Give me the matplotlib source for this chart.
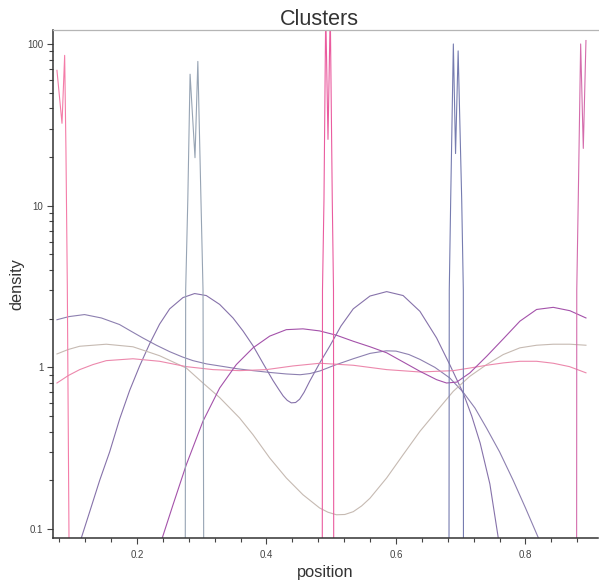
import matplotlib
matplotlib.use('Agg')
import matplotlib.pyplot as plt
from matplotlib.ticker import MultipleLocator, FixedLocator, FuncFormatter

plt.rcParams['font.family'] = ['Liberation Sans', 'DejaVu Sans']

# broad density curves (position, density)
a_x = [0.0764, 0.095, 0.119, 0.145, 0.173, 0.19, 0.209, 0.23, 0.2505, 0.27, 0.2865,
       0.3075, 0.3277, 0.355, 0.3792, 0.405, 0.4306, 0.452, 0.467, 0.4826, 0.505,
       0.534, 0.56, 0.585, 0.60, 0.62, 0.637, 0.66, 0.683, 0.704, 0.722, 0.740,
       0.76, 0.781, 0.80, 0.820]
a_y = [1.97, 2.06, 2.12, 2.02, 1.84, 1.68, 1.52, 1.37, 1.25, 1.16, 1.10,
       1.05, 1.02, 0.98, 0.954, 0.93, 0.91, 0.90, 0.915, 0.95, 1.03,
       1.13, 1.22, 1.265, 1.26, 1.20, 1.12, 1.0, 0.86, 0.70, 0.56, 0.42,
       0.30, 0.20, 0.135, 0.088]

b_x = [0.114, 0.127, 0.1424, 0.1578, 0.1733, 0.1887, 0.2041, 0.2196, 0.2349, 0.2505,
       0.271, 0.289, 0.307, 0.3277, 0.3483, 0.3637, 0.3792, 0.3946, 0.41, 0.419,
       0.4258, 0.432, 0.4383, 0.445, 0.4512, 0.458, 0.4667, 0.482, 0.4976, 0.515,
       0.534, 0.5598, 0.5856, 0.611, 0.637, 0.6627, 0.683, 0.704, 0.717, 0.730,
       0.745, 0.758]
b_y = [0.088, 0.128, 0.20, 0.30, 0.48, 0.72, 1.02, 1.40, 1.85, 2.30,
       2.70, 2.86, 2.78, 2.45, 2.02, 1.68, 1.36, 1.06, 0.83, 0.73,
       0.665, 0.625, 0.603, 0.606, 0.635, 0.70, 0.82, 1.06, 1.35, 1.80,
       2.30, 2.76, 2.94, 2.78, 2.22, 1.52, 1.04, 0.69, 0.50, 0.34,
       0.19, 0.088]

c_x = [0.0764, 0.094, 0.1115, 0.1526, 0.1938, 0.2349, 0.2762, 0.3019, 0.3277, 0.3585,
       0.3792, 0.405, 0.4306, 0.4563, 0.482, 0.495, 0.508, 0.521, 0.534, 0.547,
       0.5598, 0.5856, 0.611, 0.637, 0.6627, 0.6885, 0.714, 0.740, 0.7657, 0.7914,
       0.8172, 0.8429, 0.8686, 0.8934]
c_y = [1.21, 1.29, 1.35, 1.39, 1.34, 1.18, 0.99, 0.80, 0.65, 0.486,
       0.383, 0.275, 0.207, 0.163, 0.135, 0.127, 0.1225, 0.123, 0.128, 0.139,
       0.155, 0.207, 0.288, 0.402, 0.535, 0.711, 0.88, 1.04, 1.20, 1.32,
       1.37, 1.39, 1.39, 1.37]

d_x = [0.0764, 0.094, 0.1115, 0.132, 0.1526, 0.1938, 0.2349, 0.2762, 0.3174, 0.3585,
       0.3997, 0.4409, 0.4826, 0.534, 0.5856, 0.637, 0.6885, 0.714, 0.740, 0.7657,
       0.7914, 0.8172, 0.8429, 0.868, 0.8934]
d_y = [0.80, 0.89, 0.968, 1.04, 1.10, 1.13, 1.09, 1.01, 0.968, 0.954,
       0.968, 1.02, 1.06, 1.03, 0.968, 0.936, 0.954, 0.99, 1.03, 1.065,
       1.09, 1.09, 1.06, 1.01, 0.925]

e_x = [0.239, 0.2556, 0.2762, 0.3019, 0.3277, 0.3534, 0.3792, 0.405, 0.4306, 0.4563,
       0.482, 0.508, 0.534, 0.56, 0.5856, 0.611, 0.637, 0.6627, 0.678, 0.6937,
       0.714, 0.740, 0.7657, 0.7914, 0.8172, 0.8429, 0.8686, 0.8934]
e_y = [0.088, 0.141, 0.25, 0.464, 0.745, 1.04, 1.32, 1.56, 1.71, 1.73,
       1.68, 1.58, 1.45, 1.34, 1.23, 1.08, 0.945, 0.839, 0.80, 0.81,
       0.923, 1.17, 1.50, 1.93, 2.28, 2.35, 2.24, 2.02]

# narrow cluster spikes
s1_x = [0.0764, 0.0842, 0.0883, 0.0903, 0.0924, 0.095]
s1_y = [68.7, 32.3, 85, 22, 3.2, 0.088]

s2_x = [0.2746, 0.2752, 0.2785, 0.282, 0.2896, 0.294, 0.2988, 0.302, 0.303]
s2_y = [0.088, 3.0, 10.9, 65, 19.8, 78, 10.9, 3.0, 0.088]

s3_x = [0.4862, 0.4865, 0.4888, 0.4915, 0.495, 0.4985, 0.5016, 0.5035, 0.5038]
s3_y = [0.088, 3.0, 10.9, 160, 25.7, 160, 10.9, 3.0, 0.088]

s4_x = [0.6819, 0.6823, 0.6845, 0.6886, 0.692, 0.696, 0.7015, 0.704, 0.7042]
s4_y = [0.088, 3.0, 10.9, 100, 21, 90.6, 10.9, 3.0, 0.088]

s5_x = [0.879, 0.8792, 0.8815, 0.8852, 0.8893, 0.8934]
s5_y = [0.088, 3.0, 10.9, 100, 22.6, 105]

curves = [
    (a_x, a_y, '#8d80b0'),
    (b_x, b_y, '#8672aa'),
    (c_x, c_y, '#c6bab2'),
    (d_x, d_y, '#ec88ac'),
    (e_x, e_y, '#a452aa'),
    (s1_x, s1_y, '#f47ca8'),
    (s2_x, s2_y, '#97a4b4'),
    (s3_x, s3_y, '#ea5c9f'),
    (s4_x, s4_y, '#767cb0'),
    (s5_x, s5_y, '#d46cac'),
]

fig = plt.figure(figsize=(5.99, 5.83), dpi=100)
ax = fig.add_axes([53 / 599, 45 / 583, 545 / 599, 508 / 583])

for x, y, color in curves:
    ax.plot(x, y, color=color, lw=0.8, solid_joinstyle='round')

ax.set_yscale('log')
ax.set_xlim(0.0703, 0.912)
ax.set_ylim(0.088, 122)

ax.xaxis.set_major_locator(MultipleLocator(0.2))
ax.xaxis.set_minor_locator(MultipleLocator(0.04))
ax.yaxis.set_major_locator(FixedLocator([0.1, 1, 10, 100]))
ax.yaxis.set_minor_locator(FixedLocator([s * 10.0 ** e for e in range(-1, 2) for s in range(2, 10)]))
ax.yaxis.set_major_formatter(FuncFormatter(lambda v, pos: f'{v:g}'))
ax.yaxis.set_minor_formatter(FuncFormatter(lambda v, pos: ''))

ax.tick_params(which='both', direction='out', color='#444444', width=0.8,
               labelsize=7, labelcolor='#444444')
ax.tick_params(which='major', length=4.5)
ax.tick_params(which='minor', length=2.6)
ax.tick_params(axis='x', which='major', pad=4.5)
ax.tick_params(axis='y', which='major', pad=2.5)

for side in ['left', 'bottom']:
    ax.spines[side].set_color('#333333')
    ax.spines[side].set_linewidth(1.1)
ax.spines['top'].set_color('#b5b5b5')
ax.spines['top'].set_linewidth(0.9)
ax.spines['right'].set_visible(False)

ax.set_title('Clusters', fontsize=15.5, color='#333333', x=0.489, pad=3.6)
ax.set_xlabel('position', fontsize=11.8, color='#333333', va='center')
ax.set_ylabel('density', fontsize=11.8, color='#333333', va='center')
ax.xaxis.set_label_coords(0.5, -34 / 508)
ax.yaxis.set_label_coords(-36.3 / 545, 0.5)

fig.savefig('out.png', dpi=100)
